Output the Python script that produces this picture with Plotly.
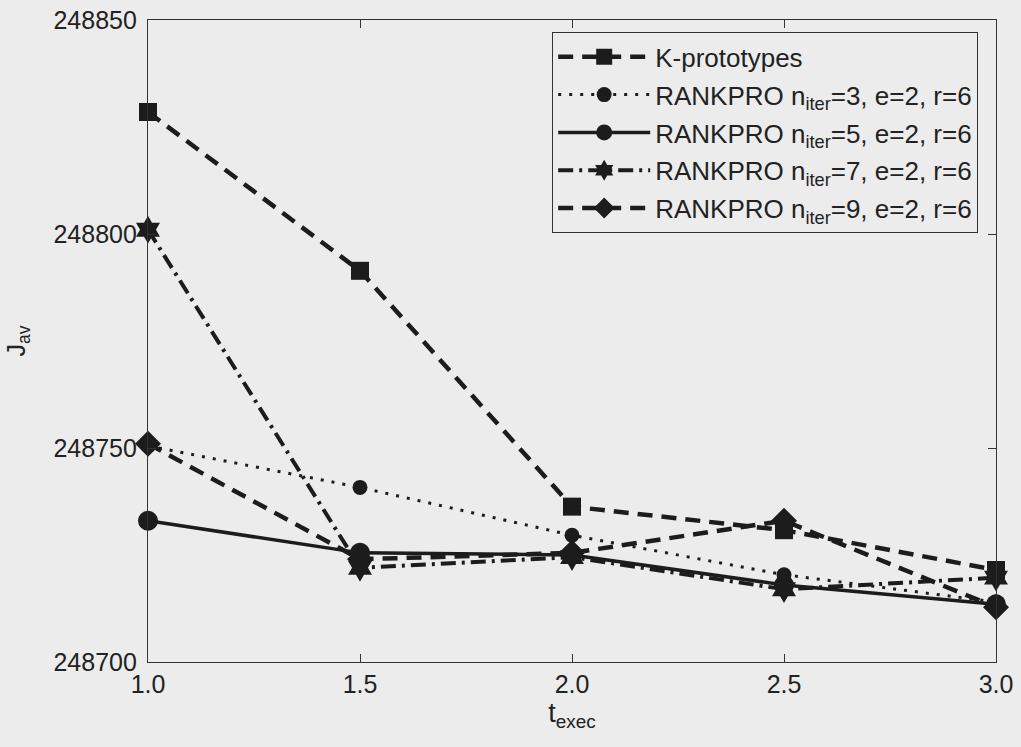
import plotly.graph_objects as go

t_exec = [1.0, 1.5, 2.0, 2.5, 3.0]
k_prototypes = [248828.5, 248791.4, 248736.3, 248730.8, 248721.5]
rankpro_n3 = [248750.5, 248740.8, 248729.6, 248720.4, 248714.0]
rankpro_n5 = [248733.0, 248725.5, 248725.0, 248718.0, 248713.5]
rankpro_n7 = [248801.0, 248722.0, 248724.5, 248717.0, 248719.7]
rankpro_n9 = [248751.0, 248724.0, 248725.5, 248733.0, 248712.8]

names = [
    "K-prototypes",
    "RANKPRO n<sub>iter</sub>=3, e=2, r=6",
    "RANKPRO n<sub>iter</sub>=5, e=2, r=6",
    "RANKPRO n<sub>iter</sub>=7, e=2, r=6",
    "RANKPRO n<sub>iter</sub>=9, e=2, r=6",
]
series = [k_prototypes, rankpro_n3, rankpro_n5, rankpro_n7, rankpro_n9]
dashes = ["15px,9px", "3px,8px", "solid", "15px,6px,3px,6px", "15px,9px"]
widths = [4.5, 3, 3.5, 4, 4.5]
symbols = ["square", "circle", "circle", "hexagram", "diamond"]
sizes = [18, 15, 20, 21, 20]

ink = "#1c1c1c"
paper = "#ececec"
txt = "#222222"
fam = "Liberation Sans, Arial, sans-serif"

fig = go.Figure()
for i, (name, ys, d, w, s, sz) in enumerate(zip(names, series, dashes, widths, symbols, sizes)):
    fig.add_trace(go.Scatter(
        x=t_exec, y=ys, name=name, mode="lines+markers", legendgroup=f"g{i}",
        line=dict(color=ink, width=w, dash=d),
        marker=dict(symbol=s, size=sz, color=ink, line=dict(width=0)),
        cliponaxis=False,
    ))

axis_common = dict(
    showgrid=False, zeroline=False, showline=True, linecolor="#333333",
    linewidth=1.2, mirror="ticks", ticks="inside", ticklen=8, tickwidth=1.2,
    tickcolor="#333333", automargin=False, ticklabeloverflow="allow",
    tickfont=dict(family=fam, size=25, color=txt),
)

fig.update_layout(
    width=1021, height=747,
    paper_bgcolor=paper, plot_bgcolor=paper,
    margin=dict(l=148, r=25, t=20, b=85, autoexpand=False),
    font=dict(family=fam, size=25, color=txt),
    showlegend=True,
    legend=dict(
        x=0.4764, y=0.981, xanchor="left", yanchor="top",
        bgcolor=paper, bordercolor="#333333", borderwidth=1.2,
        font=dict(size=26, color=txt), itemwidth=92,
        tracegroupgap=1,
    ),
    xaxis=dict(
        range=[1.0, 3.0], tickvals=t_exec, ticktext=["1.0", "1.5", "2.0", "2.5", "3.0"],
        title=dict(text="t<sub>exec</sub>", standoff=2, font=dict(size=27)),
        **axis_common,
    ),
    yaxis=dict(
        range=[248700, 248850], tickvals=[248700, 248750, 248800, 248850],
        ticktext=["248700", "248750", "248800", "248850"],
        ticklabelstandoff=5,
        title=dict(text="J<sub>av</sub>", standoff=20, font=dict(size=25)),
        **axis_common,
    ),
)

fig.write_html(
    "out.html",
    config={"displayModeBar": False},
    post_script="document.body.style.margin='0px';document.body.style.background='#ececec';",
)
